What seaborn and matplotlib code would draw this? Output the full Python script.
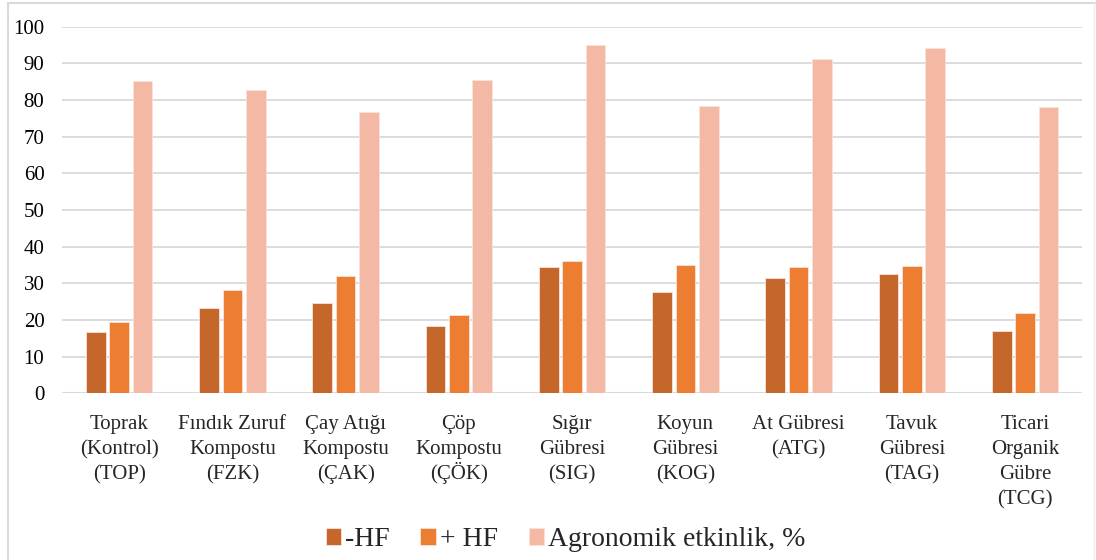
import numpy as np
import pandas as pd
import matplotlib.pyplot as plt
import seaborn as sns
from matplotlib.lines import Line2D

# Chart data
categories = ["Toprak\n(Kontrol)\n(TOP)", "Fındık Zuruf\nKompostu\n(FZK)",
              "Çay Atığı\nKompostu\n(ÇAK)", "Çöp\nKompostu\n(ÇÖK)",
              "Sığır\nGübresi\n(SIG)", "Koyun\nGübresi\n(KOG)",
              "At Gübresi\n(ATG)", "Tavuk\nGübresi\n(TAG)",
              "Ticari\nOrganik\nGübre\n(TCG)"]
series_names = ["-HF", "+ HF", "Agronomik etkinlik, %"]
minus_hf = [16.6, 23.2, 24.5, 18.3, 34.4, 27.5, 31.5, 32.5, 17.0]
plus_hf = [19.5, 28.2, 31.9, 21.4, 36.2, 35.0, 34.5, 34.6, 21.8]
agronomik = [85.2, 82.6, 76.6, 85.4, 95.0, 78.5, 91.2, 94.2, 78.1]
y_ticks = list(range(0, 101, 10))

colors = ["#C5662A", "#ED7D31", "#F4B9A5"]

df = pd.DataFrame({
    "kategori": categories * 3,
    "seri": [series_names[0]] * 9 + [series_names[1]] * 9 + [series_names[2]] * 9,
    "deger": minus_hf + plus_hf + agronomik,
})

sns.set_style("white")
plt.rcParams["font.family"] = ["Liberation Serif", "DejaVu Serif"]

fig = plt.figure(figsize=(10.96, 5.6), dpi=100)
ax = fig.add_axes([0.057, 0.2977, 0.930, 0.6546])

sns.barplot(data=df, x="kategori", y="deger", hue="seri", palette=colors,
            saturation=1, width=0.62, gap=0.16, order=categories,
            hue_order=series_names, edgecolor="#FBE3DA", linewidth=0.6, ax=ax)

ax.set_ylim(0, 100)
ax.set_xlim(-0.5, len(categories) - 0.5)
ax.set_yticks(y_ticks)
ax.yaxis.grid(True, color="#D9D9D9", linewidth=1.3)
ax.set_axisbelow(True)
for s in ax.spines.values():
    s.set_visible(False)
ax.axhline(0, color="#D9D9D9", linewidth=1.5, zorder=0)
ax.set_xlabel("")
ax.set_ylabel("")
ax.tick_params(axis="y", labelsize=15, length=0, pad=13, labelcolor="black")
ax.tick_params(axis="x", length=0)

# category labels, one text per line so accented lines stay evenly spaced
ticks = ax.get_xticks()
ax.set_xticklabels([""] * len(categories))
for x, cat in zip(ticks, categories):
    for i, line in enumerate(cat.split("\n")):
        ax.annotate(line, xy=(x, 0), xycoords=ax.get_xaxis_transform(),
                    xytext=(0, -26 - 18 * i), textcoords="offset points",
                    ha="center", va="baseline", fontsize=15)

ax.legend(loc="center", bbox_to_anchor=(0.516, 1 - 540 / 560), bbox_transform=fig.transFigure,
          ncol=3, frameon=False, fontsize=20, handlelength=0.55, handleheight=0.55,
          handletextpad=0.15, columnspacing=1.1, borderaxespad=0)

# light outer frame (left and top only visible)
fig.lines.append(Line2D([8 / 1096, 8 / 1096], [0, 1 - 3 / 560], transform=fig.transFigure,
                        color="#D9D9D9", linewidth=1.5))
fig.lines.append(Line2D([8 / 1096, 1], [1 - 3 / 560, 1 - 3 / 560], transform=fig.transFigure,
                        color="#D9D9D9", linewidth=1.5))
fig.lines.append(Line2D([1 - 2 / 1096, 1 - 2 / 1096], [0, 1 - 3 / 560], transform=fig.transFigure,
                        color="#EEEEEE", linewidth=1))

fig.savefig("out.png", dpi=100)
